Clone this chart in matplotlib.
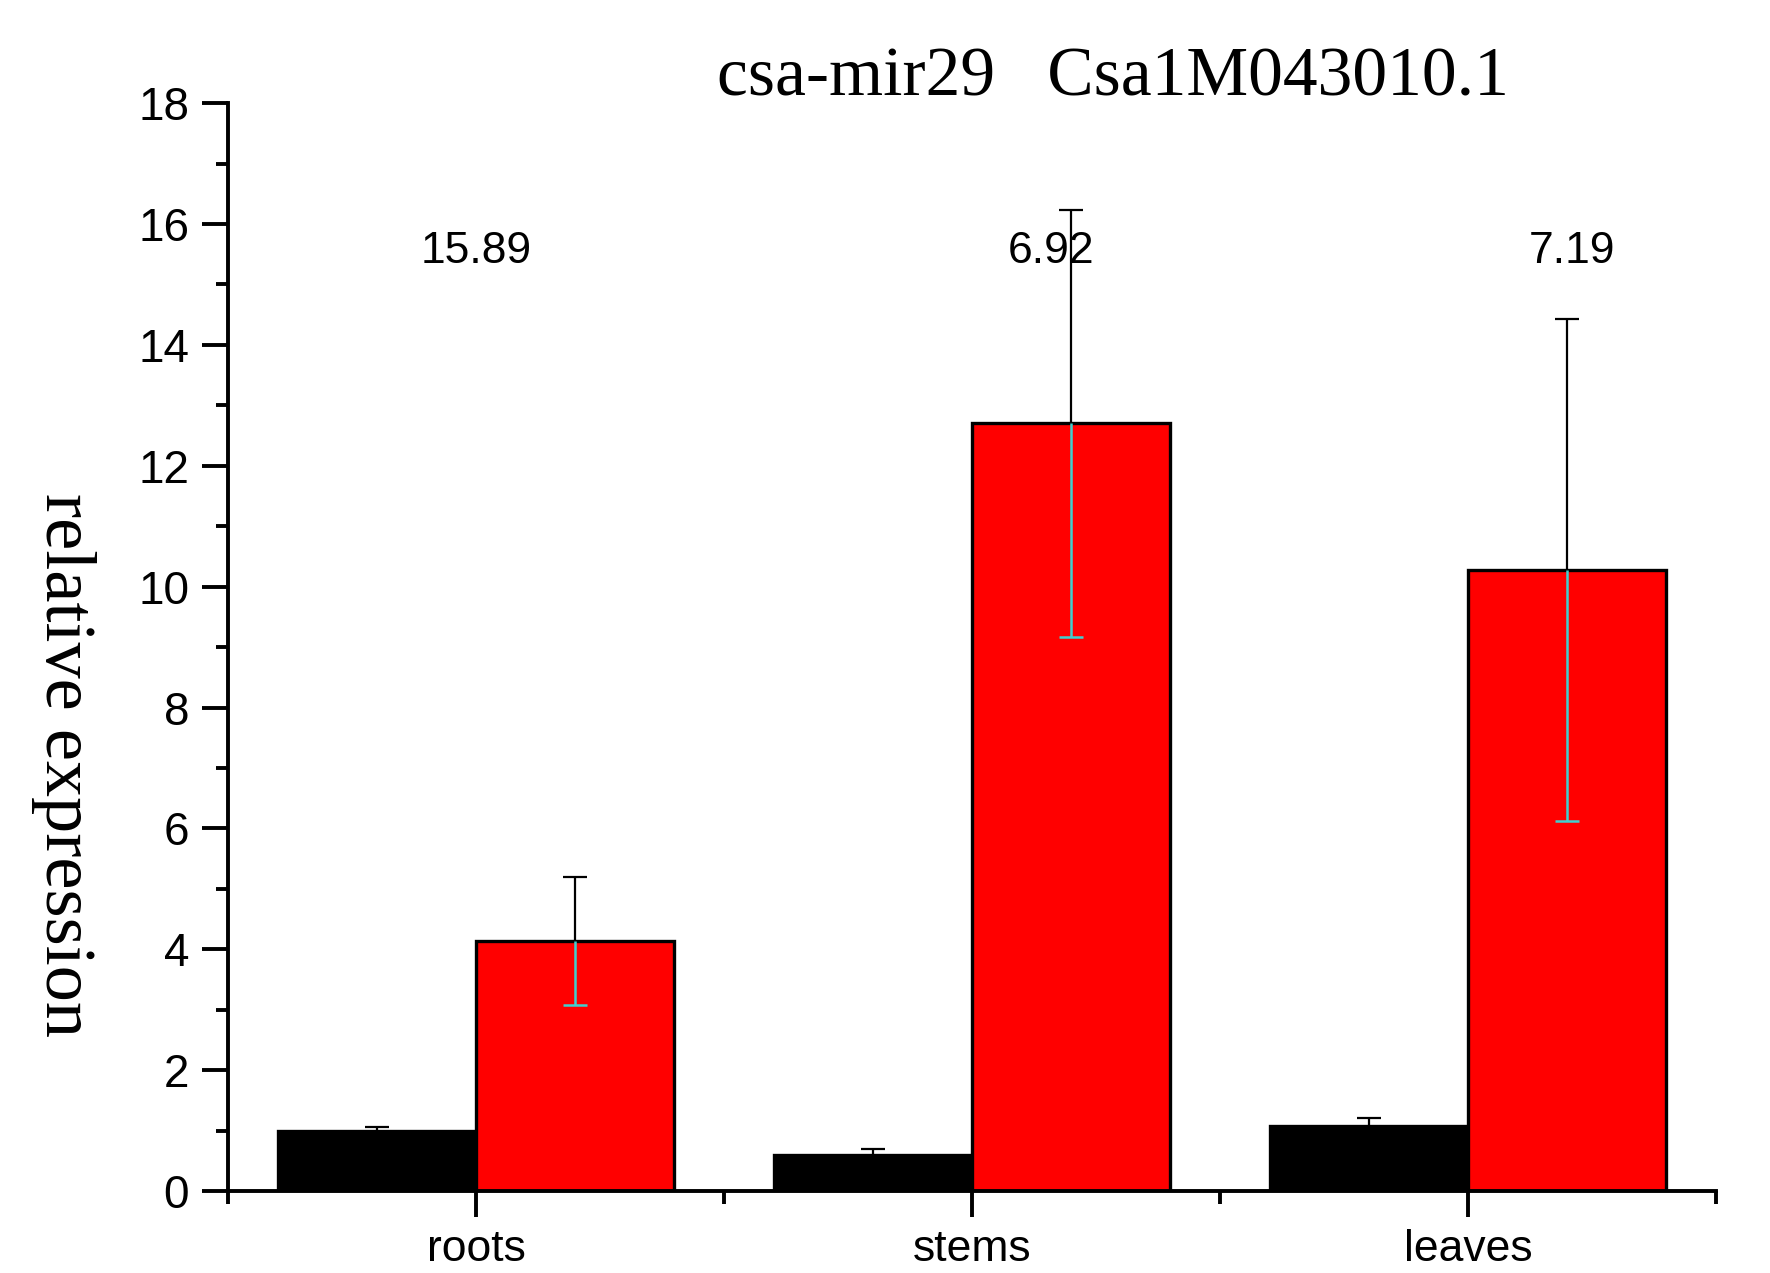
import numpy as np
import matplotlib
matplotlib.use("Agg")
import matplotlib.pyplot as plt

# data
tissues = ["roots", "stems", "leaves"]
ctrl_vals = [1.00, 0.60, 1.08]
ctrl_err = [0.06, 0.09, 0.13]
treat_vals = [4.14, 12.70, 10.27]
treat_err = [1.06, 3.53, 4.15]
fold_labels = ["15.89", "6.92", "7.19"]
fold_xpos = [0.0, 1.16, 2.21]
fold_y = 15.55

fig = plt.figure(figsize=(17.7, 12.73), dpi=100)
ax = fig.add_axes([0.1288, 0.0644, 0.9695 - 0.1288, 0.919 - 0.0644])

x = np.arange(len(tissues))
w = 0.4
ax.bar(x - w / 2, ctrl_vals, width=w, color="black", edgecolor="black", linewidth=2.4, zorder=2)
ax.bar(x + w / 2, treat_vals, width=w, color="#ff0000", edgecolor="black", linewidth=2.4, zorder=2)

# upper halves of error bars (black), lower half inside red bars (cyan)
for xs, vals, errs in [(x - w / 2, ctrl_vals, ctrl_err), (x + w / 2, treat_vals, treat_err)]:
    _, caps, _ = ax.errorbar(xs, vals, yerr=[np.zeros(3), errs], fmt="none",
                             ecolor="black", elinewidth=1.6, capsize=8.5, capthick=1.6, zorder=3)
    caps[0].set_visible(False)
_, caps, _ = ax.errorbar(x + w / 2, treat_vals, yerr=[treat_err, np.zeros(3)], fmt="none",
                         ecolor="#3fd0d0", elinewidth=1.8, capsize=8.5, capthick=1.8, zorder=3)
caps[1].set_visible(False)

for xp, lab in zip(fold_xpos, fold_labels):
    ax.text(xp, fold_y, lab, ha="center", va="center", fontsize=32,
            family="Liberation Sans")

ax.set_xlim(-0.5, 2.5)
ax.set_ylim(0, 18)
ax.set_xticks(x)
ax.set_xticklabels(tissues, family=["Liberation Sans Narrow", "Liberation Sans"], fontsize=32)
ax.set_xticks([-0.5, 0.5, 1.5, 2.5], minor=True)
ax.set_yticks(np.arange(0, 19, 2))
ax.set_yticks(np.arange(0, 19, 1), minor=True)
for lab in ax.get_yticklabels():
    lab.set_family("Liberation Sans")
    lab.set_fontsize(33)

ax.spines["top"].set_visible(False)
ax.spines["right"].set_visible(False)
ax.spines["left"].set_linewidth(2.8)
ax.spines["bottom"].set_linewidth(2.8)
ax.tick_params(which="major", direction="out", length=19, width=2.8, pad=9)
ax.tick_params(axis="x", which="major", pad=8)
ax.tick_params(which="minor", direction="out", length=9, width=2.8)

fig.text(0.629, 0.938, "csa-mir29   Csa1M043010.1", ha="center", va="center",
         fontsize=50, family="Liberation Serif")
fig.text(0.036, 0.399, "relative expression", ha="center", va="center",
         rotation=270, fontsize=52, family="Liberation Serif")

fig.savefig("out.png", dpi=100, facecolor="white")
